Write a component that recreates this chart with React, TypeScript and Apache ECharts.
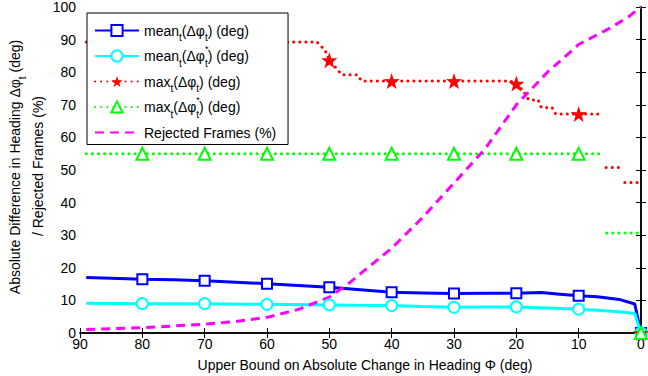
import React, { useEffect, useRef } from 'react';
import * as echarts from 'echarts';

const FONT = "'Liberation Sans', Arial, Helvetica, sans-serif";

// x positions: degrees (axis runs 90 -> 0)
const markerAt = [80, 70, 60, 50, 40, 30, 20, 10, 0];

const meanX = [89, 85, 80, 75, 70, 65, 60, 55, 50, 46, 40, 35, 30, 25, 20, 16, 13, 10, 7, 3.5, 1, 0];
const meanY = [17.0, 16.8, 16.5, 16.3, 16.0, 15.6, 15.1, 14.6, 14.0, 13.4, 12.5, 12.3, 12.1, 12.2, 12.2, 12.4, 11.9, 11.4, 11.1, 10.3, 8.9, 0];

const meanStarX = [89, 80, 70, 60, 50, 46, 40, 35, 30, 25, 20, 15, 10, 7, 3.5, 1, 0];
const meanStarY = [9.1, 9.0, 9.0, 8.8, 8.6, 8.5, 8.4, 8.1, 7.9, 8.0, 8.0, 7.7, 7.3, 7.0, 6.5, 6.0, 0];

const maxX = [89, 52, 50.7, 50, 48, 45.5, 44.8, 40, 30, 21, 20, 19, 18, 16.5, 16, 14.3, 13.7, 10, 6.3, 6, 5.6, 3.4, 3, 2.6, 0.5, 0.3, 0];
const maxY = [89.3, 89.3, 86.8, 83.7, 79.2, 79.2, 77.3, 77.3, 77.3, 77.3, 76.5, 74.5, 71.5, 71.5, 69.2, 69.2, 67.2, 67.2, 67.2, null, 50.8, 50.8, null, 46.2, 46.2, null, 0];
const maxMarkers = [50, 40, 30, 20, 10, 0];

const maxStarX = [89, 80, 70, 60, 50, 40, 30, 20, 10, 6.3, 6, 5.5, 0.3, 0.2, 0];
const maxStarY = [55, 55, 55, 55, 55, 55, 55, 55, 55, 55, null, 30.7, 30.7, null, 0];

const rejX = [89, 80, 70, 65, 60, 55, 50, 47, 45, 40, 35, 30, 25, 20, 15, 10, 5, 2, 0];
const rejY = [1.1, 1.6, 2.7, 3.5, 4.8, 7.2, 11.0, 15.0, 18.2, 26, 35.5, 46, 56.5, 70, 80, 88.5, 93.5, 97, 100];

const STAR = 'path://M50,0 L61.8,35.1 L97.6,34.5 L69.1,56.9 L79.4,90.5 L50,70 L20.6,90.5 L30.9,56.9 L2.4,34.5 L38.2,35.1 Z';

function build(xs: number[], ys: (number | null)[], marks: number[]) {
  return xs.map((x, i) => {
    const y = ys[i];
    if (y === null) return { value: [x, '-'], symbol: 'none' };
    if (marks.indexOf(x) >= 0) return { value: [x, y] };
    return { value: [x, y], symbol: 'none' };
  });
}

const rich = {
  sub: { fontSize: 10, lineHeight: 20, height: 6, verticalAlign: 'bottom', fontFamily: FONT, color: '#000', fill: '#000' },
  sup: { fontSize: 9, lineHeight: 20, height: 6, verticalAlign: 'top', width: 0, fontFamily: FONT, color: '#000', fill: '#000' },
  subg: { fontSize: 10, lineHeight: 20, height: 6, verticalAlign: 'bottom', width: 0, fontFamily: FONT, color: '#000', fill: '#000' },
};

const legendText: Record<string, string> = {
  mean: 'mean{sub|t}(Δφ{sup| }{sub|t}) (deg)',
  meanStar: 'mean{sub|t}(Δφ{sup|*}{sub|t}) (deg)',
  max: 'max{sub|t}(Δφ{sup| }{sub|t}) (deg)',
  maxStar: 'max{sub|t}(Δφ{sup|*}{sub|t}) (deg)',
  rej: 'Rejected Frames (%){sup| }{subg| }',
};

const dotted = [0.1, 6];

export default function App() {
  const ref = useRef<HTMLDivElement>(null);
  useEffect(() => {
    if (!ref.current) return;
    const chart = echarts.init(ref.current, null, { renderer: 'svg' });
    const axisCommon = {
      type: 'value',
      axisLine: { show: true, lineStyle: { color: '#000', width: 1.5 } },
      axisTick: { show: true, inside: true, length: 5, lineStyle: { color: '#000', width: 1 } },
      splitLine: { show: false },
    };
    chart.setOption({
      animation: false,
      backgroundColor: '#fff',
      grid: { left: 80, right: 7, top: 6, bottom: 43, containLabel: false },
      xAxis: [
        {
          ...axisCommon,
          min: 0, max: 90, interval: 10, inverse: true, position: 'bottom',
          axisLabel: { show: true, margin: 4, color: '#000', fontSize: 14, fontFamily: FONT },
        },
        {
          ...axisCommon,
          min: 0, max: 90, interval: 10, inverse: true, position: 'top',
          axisLabel: { show: false },
        },
      ],
      yAxis: [
        {
          ...axisCommon,
          min: 0, max: 100, interval: 10, position: 'left',
          axisLabel: { show: true, margin: 4, color: '#000', fontSize: 14, fontFamily: FONT },
        },
        {
          ...axisCommon,
          min: 0, max: 100, interval: 10, position: 'right',
          axisLabel: { show: false },
        },
      ],
      legend: {
        orient: 'vertical',
        left: 87, top: 13,
        padding: [6, 9, 0, 7],
        itemGap: 2,
        itemWidth: 44,
        itemHeight: 14,
        backgroundColor: '#fff',
        borderColor: '#000',
        borderWidth: 1,
        borderRadius: 0,
        data: [
          { name: 'mean' },
          { name: 'meanStar' },
          { name: 'max' },
          { name: 'maxStar' },
          { name: 'rej', itemStyle: { color: 'rgba(0,0,0,0)', borderColor: 'rgba(0,0,0,0)' } },
        ],
        formatter: (n: string) => legendText[n] || n,
        textStyle: { color: '#000', fontSize: 14, fontFamily: FONT, lineHeight: 20, rich },
      },
      series: [
        {
          name: 'mean', type: 'line', data: build(meanX, meanY, markerAt),
          symbol: 'emptyRect', symbolSize: 10, showAllSymbol: true,
          lineStyle: { color: '#0000ff', width: 3 },
          itemStyle: { color: '#0000ff', borderWidth: 2 },
        },
        {
          name: 'meanStar', type: 'line', data: build(meanStarX, meanStarY, markerAt),
          symbol: 'emptyCircle', symbolSize: 11, showAllSymbol: true,
          lineStyle: { color: '#00ffff', width: 3 },
          itemStyle: { color: '#00ffff', borderWidth: 2 },
        },
        {
          name: 'max', type: 'line', data: build(maxX, maxY, maxMarkers),
          symbol: STAR, symbolSize: 16, showAllSymbol: true, connectNulls: false,
          lineStyle: { color: '#ff0000', width: 3, type: dotted, cap: 'round' },
          itemStyle: { color: '#ff0000' },
        },
        {
          name: 'maxStar', type: 'line', data: build(maxStarX, maxStarY, markerAt),
          symbol: 'emptyTriangle', symbolSize: 12, showAllSymbol: true, connectNulls: false,
          lineStyle: { color: '#00ff00', width: 3, type: dotted, cap: 'round' },
          itemStyle: { color: '#00ff00', borderWidth: 2.5 },
        },
        {
          name: 'rej', type: 'line', data: build(rejX, rejY, []),
          symbol: 'none', showSymbol: false,
          lineStyle: { color: '#ff00ff', width: 3, type: [9, 6] },
          itemStyle: { color: '#ff00ff' },
        },
      ],
      graphic: [
        {
          type: 'text', x: 15, y: 167, rotation: Math.PI / 2,
          style: {
            text: 'Absolute Difference in Heading Δφ{sub|t} (deg)',
            fill: '#000', fontSize: 14, fontFamily: FONT, lineHeight: 20,
            align: 'center', verticalAlign: 'middle', rich,
          },
        },
        {
          type: 'text', x: 38, y: 166, rotation: Math.PI / 2,
          style: {
            text: '/ Rejected Frames (%)',
            fill: '#000', fontSize: 14, fontFamily: FONT,
            align: 'center', verticalAlign: 'middle',
          },
        },
        {
          type: 'text', x: 365, y: 365,
          style: {
            text: 'Upper Bound on Absolute Change in Heading Φ (deg)',
            fill: '#000', fontSize: 14, fontFamily: FONT,
            align: 'center', verticalAlign: 'middle',
          },
        },
      ],
    });
    return () => chart.dispose();
  }, []);
  return <div ref={ref} style={{ position: 'fixed', left: 0, top: 0, width: 648, height: 376 }} />;
}
